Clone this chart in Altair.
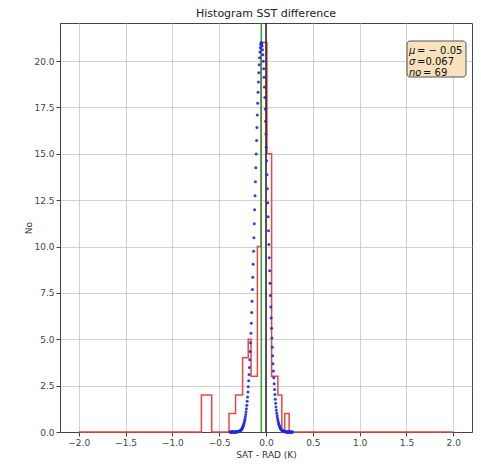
import altair as alt
import numpy as np
import pandas as pd

# ---- values ----
# histogram outline (step), bin edges and counts
BIN_EDGES = [-2.0, -0.69, -0.58, -0.395, -0.325, -0.25, -0.19, -0.16, -0.092,
             -0.053, 0.01, 0.06, 0.127, 0.169, 0.20, 0.247, 2.0]
BIN_COUNTS = [0, 2, 0, 1, 2, 4, 5, 3, 10, 21, 15, 3, 2, 0, 1, 0]

# gaussian fit parameters (from the annotation box)
MU = -0.05
SIGMA = 0.067
PEAK = 21.0
N_OBS = 69
FIT_STEP = 0.004
FIT_HALF_WIDTH_SIGMAS = 5

X_TICKS = [-2.0, -1.5, -1.0, -0.5, 0.0, 0.5, 1.0, 1.5, 2.0]
Y_TICKS = [0.0, 2.5, 5.0, 7.5, 10.0, 12.5, 15.0, 17.5, 20.0]
X_DOMAIN = [-2.2, 2.2]
Y_DOMAIN = [0, 22.05]

BOX_SYMBOLS = ["\u03bc", "\u03c3", "no"]
BOX_VALUES = ["=\u00a0\u2212\u00a00.05", "=0.067"]
BOX_COUNT = "= " + str(N_OBS)

TITLE = "Histogram SST difference"
X_TITLE = "SAT - RAD (K)"
Y_TITLE = "No"

FONT = "DejaVu Sans"

# ---- tables ----
hist_df = pd.DataFrame({"x": BIN_EDGES, "y": BIN_COUNTS + [0]})
fit_x = np.arange(MU - FIT_HALF_WIDTH_SIGMAS * SIGMA,
                  MU + FIT_HALF_WIDTH_SIGMAS * SIGMA, FIT_STEP)
fit_df = pd.DataFrame({"x": fit_x,
                       "y": PEAK * np.exp(-0.5 * ((fit_x - MU) / SIGMA) ** 2)})
mean_df = pd.DataFrame({"x": [MU]})
zero_df = pd.DataFrame({"x": [0.0]})
one_df = pd.DataFrame({"a": [0]})

xs = alt.Scale(domain=X_DOMAIN, nice=False, zero=False)
ys = alt.Scale(domain=Y_DOMAIN, nice=False, zero=False)
x_axis = alt.Axis(values=X_TICKS, format=".1f", title=X_TITLE, grid=True,
                  labelFlush=False)
y_axis = alt.Axis(values=Y_TICKS, format=".1f", title=Y_TITLE, grid=True,
                  labelFlush=False)


def X():
    return alt.X("x:Q", scale=xs, axis=x_axis)


def Y():
    return alt.Y("y:Q", scale=ys, axis=y_axis)


hist = alt.Chart(hist_df).mark_line(
    interpolate="step-after", color="#ee4444", strokeWidth=1.5
).encode(x=X(), y=Y())

mean_rule = alt.Chart(mean_df).mark_rule(color="#2e9a2e", strokeWidth=1.5).encode(x=X())
zero_rule = alt.Chart(zero_df).mark_rule(color="#222222", strokeWidth=1.5).encode(x=X())

fit = alt.Chart(fit_df).mark_circle(size=9, color="#1a2ae8", opacity=0.9).encode(
    x=X(), y=Y()
)

box = alt.Chart(one_df).mark_rect(
    fill="#f7e2bd", stroke="#555555", strokeWidth=1, cornerRadius=3
).encode(x=alt.value(347), x2=alt.value(406), y=alt.value(18), y2=alt.value(54))

text_style = dict(align="left", baseline="middle", font=FONT, fontSize=10,
                  lineHeight=11, color="#111111")

box_sym = alt.Chart(one_df).mark_text(
    text=BOX_SYMBOLS, fontStyle="italic", **text_style
).encode(x=alt.value(349), y=alt.value(28))

box_val = alt.Chart(one_df).mark_text(
    text=BOX_VALUES, **text_style
).encode(x=alt.value(357), y=alt.value(28))

box_cnt = alt.Chart(one_df).mark_text(
    text=BOX_COUNT, **text_style
).encode(x=alt.value(363), y=alt.value(50))

chart = alt.layer(hist, mean_rule, zero_rule, fit, box, box_sym, box_val,
                  box_cnt).properties(
    width=412,
    height=409,
    title=alt.TitleParams(TITLE, font=FONT, fontSize=11, fontWeight="normal",
                          color="#222222", anchor="middle", offset=3),
    autosize=alt.AutoSizeParams(type="none"),
    padding={"left": 60, "top": 23, "right": 9, "bottom": 34},
).configure_view(
    stroke="#444444", strokeWidth=1
).configure_axis(
    labelFont=FONT, titleFont=FONT, labelFontSize=9, titleFontSize=9,
    titleFontWeight="normal", labelColor="#444444", titleColor="#333333",
    domainColor="#444444", tickColor="#444444", tickSize=4,
    gridColor="#c4c4c4", gridWidth=0.8, labelPadding=2,
).configure_axisX(
    titlePadding=3
).configure_axisY(
    titlePadding=0
)

chart.save("out.html", embed_options={"renderer": "svg", "actions": False})
